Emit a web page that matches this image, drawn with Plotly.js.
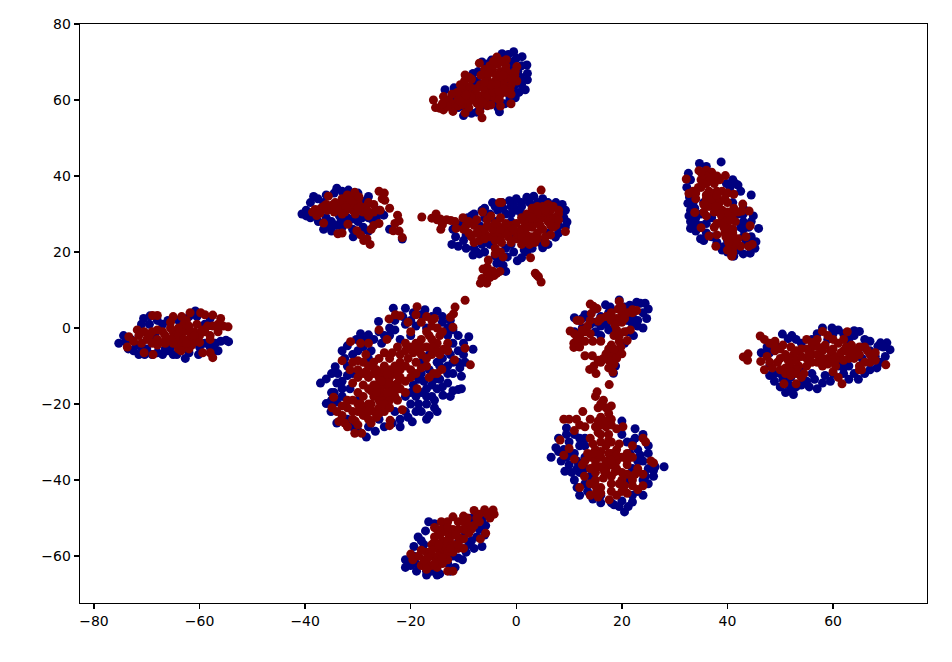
<!DOCTYPE html>
<html><head><meta charset="utf-8">
<script src="https://cdn.plot.ly/plotly-3.0.1.min.js"></script>
<style>html,body{margin:0;padding:0;background:#fff}#c{width:952px;height:662px}</style>
</head><body><div id="c"></div>
<script>
const blueTop=[[-0.5,72.7],[-1.5,72],[1.1,71.4],[0,71],[2,69.2],[1,69],[2.1,67],[2.1,65.3],[1,64],[1.7,62.7],[-0.2,60.6],[-1,62],[-3.2,56.9],[-10,55.9],[-8.5,56.5],[-7.5,56.8],[-13.5,62.7],[-8.1,64.4],[-7.5,65],[-6.5,70],[-5.5,69.5],[-2.7,72.2],[-3.5,71],[-12,61],[-11,58],[-5,59],[-4,60],[-2,64],[-6,67],[-8,62],[-0.8,70],[0.3,67.5],[-0.5,63.5],[-1.2,60.5],[-4.7,70.5],[-7.2,67.5],[-8.8,60],[-9.5,57.5],[-12.8,59],[-2.2,59],[0.5,62],[0.8,66],[-1,68],[-11.8,63.2],[-10.8,62.2],[-6.8,58],[-8.2,67],[-3.5,58]];
const redTop=[[-15.7,60],[-15.3,58],[-14.5,57.8],[-13.8,57.4],[-12,57],[-9.7,56.6],[-6.5,55.3],[-6.9,57],[-3,58.4],[-1,59],[-3.7,71.3],[-1.9,70.6],[-2,69],[0.1,68.8],[0.1,65],[-0.3,66.5],[-7,69.7],[-6,68],[-4.5,68],[-3,67.5],[-1.5,67],[-9.7,66.6],[-9,66],[-10.6,64],[-10,63],[-13.8,60.9],[-12.8,60],[-12,59],[-11,60],[-10,60.5],[-9,59.5],[-8,60],[-7,61],[-6,60],[-5,61],[-4,60.5],[-3,61.5],[-2,62],[-1,61.5],[-3.5,63],[-5,63],[-2.5,64.5],[-4,65],[-5.5,65.5],[-3,66],[-1,64],[-7,58.5],[-9,58],[-11,58.5],[-5.5,58.5],[-6,62],[-8,61.5],[-7.5,63],[-10.5,61],[-2,68],[-5,69],[-3.5,69.5],[-2.8,70.2],[-5.2,67],[-3.8,66.5],[-8.5,65.5],[-9.3,62],[-11.2,62],[-6.8,64],[-4.5,62],[-1.8,65.8],[-7.5,59.2],[-10.2,58.8],[-13,58.3],[-4.8,58.7],[-6.2,63.2],[-3.8,64],[-1.2,62.8],[-8.8,63.5],[-12.2,61.5],[-6.7,66.5],[-4.3,70.2],[-2.3,63],[-3.2,60],[-5.7,60.8],[-8.5,60.7],[-10.5,59.7],[-14,59],[-9.5,61.3],[-6.5,59.5],[-0.2,67.5],[-0.8,65.5],[-2.5,66.5],[-4.8,64],[-6,64.7],[-3.3,62.2],[-9.8,65]];
const blueLeft=[[-40.6,30],[-39.8,31],[-38.4,34.6],[-39,33],[-37.6,34],[-36,35],[-34,36.8],[-33,36],[-31.8,36.3],[-30,35.5],[-28,34.6],[-25.1,29.7],[-26,31],[-39,29],[-37.5,28],[-36.5,26],[-35,25.5],[-33,26.5],[-30.9,24],[-29.5,25],[-28,25.5],[-24,26],[-21.6,23.4],[-32,27.5],[-30,28],[-28,29],[-27,28],[-35,28],[-33,33],[-29,31],[-38,31],[-36.5,33],[-34.5,35.5],[-34,27],[-31,26],[-29,26.5],[-26.5,29],[-28.5,33.5],[-39.8,29.5],[-31,28.7],[-33.2,28.3],[-38.2,29.5],[-36,29],[-33.5,29.5],[-32,29],[-29.2,29],[-25.7,30.5],[-27.5,28.8],[-35.5,26.8]];
const redLeft=[[-26,36],[-25,35.5],[-25.4,34],[-24.9,33.6],[-24,31.5],[-22.5,29.7],[-22.2,28.2],[-23,27.5],[-23.3,25.6],[-22.2,25.5],[-21.6,23.8],[-27.7,22],[-28.9,23],[-28.3,23.5],[-29.5,24.5],[-30.2,25.6],[-33,25],[-33.8,24.8],[-36.5,27.6],[-31.9,27.3],[-26,27.5],[-27,27],[-27.5,26],[-38.1,31.2],[-38.6,30.5],[-37.8,29.6],[-37,31.5],[-36,32.5],[-35.6,34.7],[-34,32],[-33,32.5],[-33,34],[-32,35],[-31,34.5],[-30.6,35.7],[-30,33.5],[-29.5,32],[-31,31],[-32.5,30.5],[-34.5,30.5],[-35.8,31],[-29,30.5],[-28,29.5],[-27,30.5],[-27,32.5],[-28,33],[-25.8,31],[-31,32.5],[-37.2,30.2],[-35,31.5],[-32,33],[-33.5,31],[-30,31.5],[-30.5,30],[-28.5,31.8],[-36.5,32],[-34.3,33],[-32.3,31.7],[-31.5,33.8],[-29.8,34.5],[-34.7,32.5],[-28.2,30.8],[-33,30]];
const blueCenter=[[-12.2,22],[-11.5,24],[-12,26],[-10,28],[-9.2,29],[-8.4,29.6],[-6.5,31],[-5,30],[-2.7,33],[-3.5,31],[-1,32],[0,31],[2,34.4],[3.3,34.7],[1,33],[4,33],[6,33],[8.7,32.5],[9.3,31],[9.6,27.9],[9.3,26.6],[7.4,23.9],[5,21.1],[6,25],[0.2,17.7],[-2,14.9],[-2.5,16.5],[-3,18],[-4,19],[-8.2,19.2],[-7,19.5],[-6,20],[-9.5,21],[-10,23],[-1,28],[-2,30],[-4,28],[-7,27],[-5,22],[2,20],[7.5,29],[8,27],[-11,21.5],[-8,21],[-6.5,22],[-4.5,24],[-2,21],[-0.5,20],[1,18.5],[3,21],[6,22],[8,25],[9,29],[7.5,33],[5,34],[2.5,33],[0,34],[-1,30],[1,30],[3,27],[-3,25],[-0.5,24],[-8,30],[-6,29],[-4,32],[-0.5,32.5],[-2.5,31.5],[1,32],[-1.3,33.5],[3.8,23],[-9.5,24.5],[-7.5,20],[-3.7,17],[-1,22],[1.5,20.5],[4.5,22.5],[-6,31.5],[-4.5,33],[-11,27],[8.7,30],[-1.7,18.7]];
const redCenter=[[-17.9,29.2],[-16,28.9],[-15.2,30],[-15,28.5],[-14.4,28.7],[-13.2,28.5],[-12.4,28.3],[-11.6,28],[-14.3,26],[-14,27.2],[-11.4,26.2],[-10.1,29],[-6.8,11.8],[-5.6,11.8],[-6.5,13],[-5,13.3],[-4.2,13.8],[-3.7,14.4],[-3.1,14.9],[-6.3,15.5],[-5.5,16],[-5.3,17.9],[-2.5,18.7],[-3,20],[3.6,14.4],[4.2,13.5],[4.7,12.1],[3.9,13.9],[2.7,18.5],[4.7,36.3],[-2.8,33],[-3.2,33],[-6.4,30.5],[-5.5,28.5],[9.3,25.4],[7.5,27],[8,31],[7,32],[6,32.5],[5,32],[4,32],[3,30.5],[2,30],[6,30],[5,29],[4,28],[2.5,28],[1.5,28],[7,29],[3,31.5],[-9.5,27],[-8,27],[-9,25],[-8.5,24],[-7,26],[-6,25],[-5.5,27],[-5,24],[-4,25],[-3,24],[-2,26],[-1,27],[0,25],[1,26],[0,23.5],[1,22],[2.5,22],[3,24],[4,25],[5,26],[5.5,24],[6.5,24.5],[-2.8,22.5],[-7,23],[-4,21],[-3,29],[-1.5,24],[-8,22.5],[-3.5,27],[-10,26],[8,30],[6.5,31],[5,30.5],[4,30],[3,29],[2,26.5],[0.5,24.5],[-1,25.5],[-2,24.8],[-3,26],[-4.5,26],[-6.5,24.5],[-7.5,25],[-1,22.5],[2,24.5],[3,26.5],[4.5,27],[6,28],[5.5,22.5],[3.5,22.5],[-4.8,29.5],[-4,19.5],[-4.5,15],[-5.5,14.5],[1,29],[0,27.5],[-0.5,26],[7,26.5],[6.5,27],[8,28.5],[5.5,31],[-6,26],[-2,27.5],[-4,23],[-6,23.5],[-3,23],[1,24],[4,23.5],[2,23],[-9,28],[-7.5,28.5],[-4,27.5]];
const blueBig=[[-37.1,-14.5],[-36,-13.4],[-34.3,-10.2],[-33.8,-12],[-32,-4.7],[-31,-7],[-30.3,-3],[-28,-1.8],[-26.1,1.7],[-26,-1],[-23.3,5.2],[-21,5.2],[-19.5,4],[-17.3,4.8],[-15,4.4],[-14,1.5],[-9,-2.3],[-8.2,-5.6],[-10,-7],[-9.7,-9],[-11,-16.2],[-10.4,-16],[-10.4,-12.7],[-12,-12],[-13.9,-17.7],[-15,-22],[-17,-18],[-15.5,-19],[-16,-15],[-19.7,-24.7],[-18,-22],[-20,-20],[-26.7,-27.2],[-28.4,-28.7],[-25,-26],[-22,-24],[-36,-19.9],[-35.1,-22],[-34,-25],[-31,-26],[-34.5,-17],[-33,-14],[-31,-12],[-35,-17],[-13,-2],[-12,-4],[-11,-6],[-14,-8],[-13,-10],[-12.5,2],[-18,-9],[-17.5,-14],[-20,-2],[-21,1],[-24,0],[-22,-3],[-25.5,-4],[-29,-5],[-28,-8],[-17,-20],[-12,-9],[-30,-19],[-22,-26],[-14.5,-13.5],[-13,-14.5],[-15,-16],[-12,-16.5],[-17,-16],[-19,-18],[-18.5,-20],[-16.5,-23],[-19,-22],[-21,-22],[-23.5,-25],[-26,-24],[-28,-26],[-30,-27],[-32,-24],[-35,-19],[-33,-18],[-33,-16],[-32,-10],[-30,-6],[-27,-3],[-24,-2],[-23,2],[-20,2],[-17,0],[-13,-6],[-11,-9],[-11,-2],[-14,3],[-16,3],[-18,-12],[-15,-9],[-10.7,-10.5],[-12.5,-7],[-16,-18],[-33,-6],[-35,-12],[-29,-3],[-19.5,-15],[-21,-18],[-34,-14.5],[-32,-12.5],[-31.5,-16],[-34,-19.5],[-32.5,-8],[-29.5,-1.5],[-27.5,-6],[-25,-2],[-23,-0.5],[-21.5,3],[-19,0.5],[-18,3.5],[-13,0],[-12,-0.5],[-10,-4],[-14.5,-10],[-16.5,-11],[-15.5,-13.5],[-18.5,-13.5],[-20,-17],[-18,-17],[-14,-15.5],[-15.5,-21],[-17,-24],[-20.5,-23.5],[-23,-22],[-12.5,-18],[-13,-12],[-16.5,-7]];
const redBig=[[-9.7,7.3],[-11.6,5.5],[-11.9,3.7],[-12.5,2.8],[-12,0.2],[-18.8,5.6],[-22.9,3.5],[-22,3.2],[-24.1,2.4],[-31.4,-3.6],[-33,-8.6],[-34.6,-18.2],[-34.9,-21],[-34,-22],[-33.6,-24.6],[-32.5,-25],[-30.6,-27.7],[-29.3,-27.7],[-24,-25.7],[-23.9,-24.3],[-21.6,-21.5],[-18.8,-16],[-8.7,-9.7],[-11.7,-8.4],[-9.7,-5.3],[-13.8,-5.6],[-14.1,-10.9],[-15.7,-12],[-15,-12],[-14.5,-2],[-15,0],[-15.5,2.5],[-16,0.5],[-17,3],[-18,1.5],[-19,3.5],[-20,-1],[-15,-4],[-16,-7],[-17,-5],[-18,-7],[-19,-4],[-21,-4],[-22.5,-5],[-22,-7],[-24.5,-3],[-26,-0.5],[-28,-4],[-29.5,-4],[-30,-8.6],[-31,-9],[-30,-11],[-29,-9],[-28,-10],[-27,-9],[-26,-8],[-25,-10],[-24,-8],[-23,-10],[-22,-9],[-20.5,-8],[-19,-9],[-17,-10],[-16.5,-13],[-30,-13],[-29,-15],[-28,-13],[-27,-12],[-26,-13],[-25.4,-13.2],[-24,-13],[-23,-12],[-22,-13],[-21,-14],[-29,-18],[-28,-16],[-27,-15],[-26,-16],[-25,-15],[-24,-16],[-23,-15],[-22,-16],[-21,-17],[-27,-18],[-26,-19],[-25,-18],[-24,-19],[-23,-18],[-29,-21],[-28,-20],[-31,-22],[-30,-22],[-29,-23],[-28,-24],[-27,-22],[-26,-21],[-25,-22],[-32,-21],[-33,-23],[-31,-24],[-32,-19],[-30,-17],[-20,-5],[-18,-3],[-13,-6],[-20,-11],[-19,-12],[-17,-1],[-16,-3],[-14.5,-7],[-16,-5],[-18,-5],[-19.5,-6.5],[-21,-10],[-22,-11],[-24,-11],[-25.5,-11.5],[-27,-10.5],[-28.5,-11.5],[-26,-14.5],[-24.5,-14.5],[-27.5,-16.5],[-25.5,-17],[-23.5,-17],[-22.5,-14.5],[-27.5,-20],[-25,-20],[-30,-20],[-30.5,-24.5],[-28,-22],[-26.5,-23.5],[-33,-20.5],[-32,-26],[-24,-21],[-22.5,-19],[-15,-6],[-17,-8],[-14,-1],[-16,2],[-20.5,1.5],[-28.5,-7],[-31.5,-11],[-23.5,-6.5],[-25,-6.5],[-26.5,-11],[-24.5,-12],[-22.5,-12.5],[-26.5,-15],[-25.5,-14],[-24,-14.5],[-29,-12],[-31,-14.5],[-31,-19],[-26.5,-17],[-23,-16.5],[-20,-13],[-18,-10.5],[-18.5,-5.5],[-16.5,-2],[-30,-25.5],[-27.5,-25],[-29.5,-20],[-26,-22.5],[-24.5,-17],[-21,-6],[-13,-4]];
const blueE=[[19.5,7.4],[24.4,6.5],[22.8,6.8],[21.5,6],[23.5,6.5],[25,5],[24.7,2.5],[24,0],[23,0.5],[22.2,-2],[11,2.7],[13,3.5],[15,5],[16.9,6.1],[18.4,-11.9],[18.8,-10],[22,3],[17,1],[15,-1],[16,3],[21,-1],[11,-1],[12.5,0],[20.5,5.5],[24,4],[23,2],[22,1],[17.5,4],[16,0.5],[14,1],[18.5,0],[12.5,2.5],[20.5,-4],[17.8,5.5],[16,-2],[17.5,-0.5],[15,1.5],[21,2]];
const redE=[[14,6.3],[15.3,5.1],[14.6,5.7],[14.2,3.8],[12.1,1.9],[11.5,2],[10.2,-0.8],[11,-1.5],[12,-2],[13,-1],[13.5,0.5],[14,2],[10.9,-4],[10.9,-5.1],[11.8,-4],[13,-3.5],[14.5,-3.5],[16,-3.5],[13,-7.3],[14.4,-7.3],[13.9,-10.9],[14.7,-10],[15.1,-12],[16,-9],[18.3,-11.6],[18,-10],[17.6,-14.9],[19.5,7],[19.3,5],[22.8,4.6],[22,4],[21,4],[18,4],[17,3],[16,2.5],[19,2.5],[20,1.5],[21.6,-0.5],[19,-0.5],[18.5,-2],[21,-3.3],[19.5,-3.5],[18,-4.5],[20,-6.8],[19,-6.5],[18,-7],[17.5,-8.5],[19,-8],[17.5,-5.5],[20,3.5],[18,2],[15.5,1.8],[20.5,-1],[19.8,-5],[17,-6.8],[18.5,-9.5],[17.5,-10.5],[15.5,-8.5],[12.5,-0.5],[11.5,-3],[14,-1.5],[20,5.5],[22,4.8],[18.5,-5.5],[19.5,-2],[18.7,0.8],[20.5,2.5],[17.8,3.2],[16.5,-8],[12,-5]];
const blueF=[[6.6,-34],[7.5,-31.5],[8,-29],[9.5,-26.3],[20,-24.5],[24,-28],[22.5,-29],[28,-36.5],[26.3,-36.5],[25,-41],[24.5,-39],[20.5,-48.4],[21.2,-47],[22,-45.8],[11,-40],[11.5,-42],[9.2,-37.7],[8.5,-35],[14.5,-45],[16,-46],[18.5,-46.5],[23,-43],[25,-33],[23,-32],[10,-30],[11,-33],[9,-32],[13,-37],[20,-28],[18,-46],[21,-30],[24,-35],[26,-39],[24,-44],[12,-44],[12,-38],[10,-36],[11,-28],[13,-29],[22,-37],[25,-31],[14,-39],[16,-44],[20,-45.5],[13,-31],[21.5,-33],[24,-40],[8,-32.5],[9.5,-28],[10,-33.5],[12,-31],[11.5,-35],[13,-34],[12,-29],[11.5,-37],[9.5,-34],[13,-41],[13.5,-43],[22,-30],[23.5,-33.5],[25,-37],[23,-35],[26,-37.5],[22,-44],[19.5,-47],[21.5,-40],[22.5,-26.5],[10.5,-38]];
const redF=[[15.3,-16.8],[15,-18],[16.5,-19],[18,-20.5],[17,-21],[15.5,-21],[12.6,-22],[9,-24],[10,-24],[11.4,-24],[12,-25.5],[14,-24],[16,-23.5],[18,-24],[15,-26],[17,-26],[19,-26.5],[20.2,-26],[8.3,-29.5],[24,-29],[24.5,-30],[10,-31.7],[9,-33.5],[11,-34.5],[12.5,-36],[26,-35.5],[25.5,-35],[12.9,-39],[12,-42],[14,-44],[15.5,-44.5],[17.6,-45.2],[19,-44],[21,-43.5],[24,-41.5],[23,-42.5],[24,-38.5],[22,-40],[20,-40],[18,-41],[16,-42],[15,-40],[17,-38],[15,-38],[19,-37],[21,-36],[22,-34],[14,-34],[15,-32],[16,-30],[17,-31],[18,-30],[19,-32],[20,-34],[15,-35],[16,-34],[17,-35],[18,-33],[19,-35],[13.5,-33],[14,-29],[16,-28],[22,-31],[17,-37],[21,-38.5],[23,-37],[16,-20],[17.5,-22.5],[15.5,-24.5],[17,-24.5],[15.5,-27.5],[17.5,-28],[13,-26],[11,-27],[16,-32.5],[17.5,-33],[19,-33.5],[16,-36.5],[18,-36],[20,-38],[18,-39],[16.5,-39.5],[14,-41],[16,-43.5],[18,-43],[20.5,-41.5],[22.5,-38.5],[21,-33],[14.5,-30.5],[14.8,-36.5],[15.5,-33.3],[18,-34.8],[19.5,-30.5],[21,-34.8],[14.5,-33],[16.7,-37.8],[18.7,-37.8],[14,-37],[13,-35],[18,-25.5],[16,-25.5],[17.5,-29.5],[15.2,-43],[20,-43],[19.5,-41],[15,-41.5],[22,-41.5]];
const blueG=[[38.8,43.7],[34.7,43.3],[36,42.5],[32.6,40.7],[33,39],[32.3,37],[32.5,32.8],[33,31],[32.7,29.5],[33,26.2],[33.5,27],[34,25.5],[34.9,23.5],[44.5,35],[42,37.6],[41,39],[40.5,37],[44.9,29.5],[45.9,26.2],[44.5,24],[45.4,22.7],[44.3,19.7],[45.2,21],[41.2,18.9],[39.3,21.4],[40,20],[43,24],[35,30],[42,30],[43,28],[35,27],[37,29],[43,19.5],[42,20.5],[44,26.5],[43,26],[36,25],[35.5,23],[33.5,33],[34,29],[43.5,22.5],[38,22.5],[40,23],[41,33],[42.5,36],[34,27.5],[36,27.5],[37,24],[42.5,26.5],[44.5,28],[43,30],[33.8,31.5],[35.5,33],[41.5,38],[39.8,38],[32.8,34.5],[33,28],[39,20.5],[43,31.5]];
const redG=[[32.2,39.2],[34.6,41.4],[36,41.5],[37,41],[39.6,40.1],[38.5,39],[35,39],[36,38],[37.5,38],[35,37],[36.5,36],[38,36],[39,36],[40,35.5],[41.2,35.2],[32.7,35.4],[33.5,36],[34,34],[36,34],[37,33],[38,34],[40,33],[36.5,32],[37.5,30.5],[33.8,30.4],[35.5,30.5],[36,29.5],[35,26.4],[37.5,26.5],[37.8,21.5],[36.5,24.2],[38,24.5],[39,29],[40,29],[41,30],[42,30.5],[40.8,18.9],[41,21],[42.5,21.5],[44,21.5],[44.7,22],[44.3,26.9],[44.1,30.8],[42.9,32.6],[40,27],[41,26],[39.5,25],[41,24],[42,23.5],[43.5,24],[39,31],[41.5,28],[36,40],[35,41],[37,39],[38,40],[36.5,38.8],[34.5,37],[34,35.5],[37,35],[38.5,33],[37,34],[39.5,34],[38,27.5],[39,27.5],[40.5,28.5],[40,26],[40,30.5],[41.5,22.5],[41,19.8],[35.5,38],[37.5,40],[36,35],[38,35],[35.5,32.5],[37.8,32],[39.3,26.5],[38.7,30],[41,25],[40.2,22.5],[39.7,24],[40,20.5],[42.7,30.8],[41.2,31.5]];
const blueH=[[50.4,-1.6],[52.2,-2],[58,0],[59.8,0],[64,-0.7],[65,-0.9],[70.2,-3.9],[69,-3.9],[70.8,-5.7],[69.9,-7.5],[68.3,-10.5],[67,-9],[64.8,-13.5],[62,-12],[57,-16],[55,-14],[52.5,-17.5],[51,-17],[48.9,-14],[50,-12],[46.4,-6.5],[47.5,-7],[54,-4],[56,-3],[60,-1.5],[63,-3],[66,-3],[67,-6],[60,-12],[53,-15.5],[50,-15.5],[54,-15],[58,-14.5],[59.5,-14],[63,-13.5],[66,-12],[69,-9],[49,-12],[48,-10],[57,-1.5],[61,-0.5],[67,-3.5],[68.5,-4.8],[65.5,-5],[62,-10.5],[56,-12],[47.5,-5],[51.5,-2.8],[48,-12.5],[50.5,-13.5],[52,-16],[55.5,-15.5],[56.5,-13.5],[58.5,-12.5],[61,-10],[64,-12],[67,-11],[69.5,-5],[64,-2],[62,-1.5],[59,-3],[53,-3],[49,-4.5],[48,-6.5],[52,-13],[54,-11],[65.5,-8],[68,-7.5],[63,-10],[51.5,-14.8]];
const redH=[[43,-7.6],[43.9,-6.8],[43.8,-8.5],[46.2,-2.1],[47,-3],[48,-4],[49,-3.5],[50.5,-4.5],[46.3,-8.8],[47,-11],[47.5,-7.5],[49,-6],[49.5,-9],[51,-7],[50.7,-14.7],[53,-14.7],[51,-12],[52,-10],[53,-12],[54,-13],[52.5,-7],[54,-5.5],[55,-3],[56,-7],[57,-3],[58,-0.9],[59,-2],[58,-6],[59,-8],[60,-5.5],[61,-8],[61.7,-14.7],[61,-13],[60,-11.5],[62.7,-1],[62,-3],[62,-6],[63,-8],[64,-6],[65,-11],[65.4,-11],[66,-5],[67,-7],[68,-6.5],[67,-9],[70,-9.7],[55,-8],[57,-9],[58,-10],[55,-10],[53,-8.5],[60,-9],[48,-9],[50,-8],[51,-10.5],[52,-12.5],[53.5,-10],[54,-7.5],[56,-5],[57,-7],[58.5,-4.5],[60,-7],[61,-4],[62,-8.5],[64,-8],[65,-7],[66,-9],[63.5,-4.5],[65,-10],[68,-8.5],[59,-9.5],[49,-5],[52,-5],[55,-5.5],[50,-5.5],[48.5,-10.5],[51.5,-8.5],[53,-11],[56,-9],[58,-8],[59.5,-6],[61.5,-6.5],[62.5,-5],[60,-3],[66.5,-6],[65,-5],[63,-6.5],[52,-11.5],[54.5,-12],[50,-11],[60.5,-10],[57,-4.8],[55.5,-7],[53,-6],[56,-3.8]];
const blueI=[[-75.3,-4],[-74.4,-2],[-73.5,-5.5],[-70.6,2.5],[-69.4,3.2],[-68,2],[-60.8,4.5],[-62,3],[-58,2.5],[-54.5,-3.6],[-56,-3.5],[-57,-6],[-62.7,-8],[-60.2,-7],[-70.4,-7],[-69,-7],[-72.5,-6],[-64.3,-7],[-66,-6],[-67,-7],[-71,1],[-73,-3],[-71.5,-7],[-68,-6.5],[-65.5,-5],[-58,-5],[-55,-3.2],[-56.5,-6],[-62,-6.5],[-71,-5],[-67,1],[-66,2],[-72,-4.5],[-70,-5.5],[-69.5,1],[-68.5,-2],[-66.5,-5.5],[-60,-5],[-59,-4],[-57,-4],[-59,1],[-60.5,3],[-64,2],[-65,-7],[-74,-3.5]];
const redI=[[-68.9,3.3],[-68,3.3],[-65,3],[-65.5,1.5],[-63.4,3],[-62.5,2],[-61.8,4],[-59.8,4],[-59,3.5],[-57.5,3.4],[-56,2.5],[-54.6,0.3],[-55.5,0.5],[-56.5,-1],[-57.5,-7.8],[-58,-6.5],[-59.4,-6.5],[-68.8,-7],[-70.5,-6.5],[-73.7,-5],[-73.4,-2.3],[-72.5,-3.5],[-71.8,-0.5],[-70.5,-1],[-70,-3],[-69,-1],[-68,-3],[-67,-1],[-66,-3],[-65,-1],[-64,-3.5],[-63,-1],[-62,-3],[-61,-1],[-63,-5],[-62,-5.5],[-64,-5.5],[-60,-2],[-59,-1],[-58,-2],[-57.5,0.5],[-65,-4],[-68,-4.5],[-60.5,1],[-71.5,-2],[-69.5,-2],[-68,-0.5],[-66.5,-2],[-65,-2.5],[-64,-2],[-63,-3],[-62,-1],[-63,1],[-64,0],[-62,0.5],[-66.5,-4],[-61.5,-4.5],[-60.5,-3.5],[-59.5,-0.5],[-63.5,-6],[-62.5,-4],[-71,-4],[-69,-4],[-67,-3.8],[-65.5,0],[-61,-2],[-58.5,0.5],[-56.5,1],[-60,-3.8],[-58,-3]];
const blueJ=[[-16.6,-51],[-17.2,-53.4],[-18.6,-55],[-19.4,-57.5],[-21,-61],[-21,-63],[-18.9,-64],[-20,-62.5],[-16,-64],[-17,-65],[-15,-65],[-11.6,-63],[-10.2,-61],[-12,-60],[-6.5,-57.5],[-8,-58],[-9,-57],[-5.8,-52],[-6.5,-50.5],[-10,-55],[-7.5,-55],[-13,-62],[-11,-60.5],[-9.5,-59],[-7,-53],[-8.5,-50],[-18,-56],[-17,-64],[-19,-62],[-14.5,-64.7],[-17.5,-57],[-11,-56.5],[-8.5,-56],[-6,-54.5],[-12.5,-64],[-19.5,-60],[-15.5,-51.5],[-13.5,-52.5]];
const redJ=[[-4.4,-47.9],[-8,-48],[-6,-47.8],[-7,-49],[-4.2,-49],[-5,-50],[-5.8,-54],[-6.8,-55.5],[-14.2,-51],[-13,-51],[-12,-49.7],[-11,-51],[-10,-51],[-9,-52],[-8,-52],[-9,-54],[-10,-53],[-11,-55],[-12,-53],[-13,-54],[-14,-53],[-15,-53],[-15.5,-55],[-14,-56],[-13,-56],[-12,-57],[-16,-57],[-15,-58],[-14,-59],[-13,-59],[-17,-59],[-16,-60],[-15,-61],[-14,-62],[-20,-59.5],[-19.6,-61],[-18.5,-60],[-18,-62.5],[-17,-62],[-16,-62.5],[-13,-64],[-12,-64],[-11,-58],[-10,-58],[-15.5,-52.5],[-14.5,-54.5],[-12.5,-55],[-11,-53],[-10,-55.5],[-9.3,-50],[-7,-51],[-13.5,-57.5],[-15.5,-56.3],[-16.8,-60.5],[-18,-58.5],[-14.8,-60],[-13,-61],[-15,-63],[-17,-63.5],[-12,-59],[-8.5,-53],[-10,-49.5],[-5.5,-49],[-7.5,-50],[-11.5,-54.5],[-13,-52.5],[-14.7,-57.2],[-12.5,-58],[-16,-58.5],[-17.5,-61],[-15.5,-62],[-14,-60.5],[-11,-57]];
const xTicks=[-80,-60,-40,-20,0,20,40,60];
const yTicks=[-60,-40,-20,0,20,40,60,80];

const blueAll=[...blueTop,...blueLeft,...blueCenter,...blueBig,...blueE,...blueF,...blueG,...blueH,...blueI,...blueJ];
const redAll=[...redTop,...redLeft,...redCenter,...redBig,...redE,...redF,...redG,...redH,...redI,...redJ];
const trace=(pts,color)=>({type:'scatter',mode:'markers',x:pts.map(p=>p[0]),y:pts.map(p=>p[1]),
  marker:{color:color,size:9,line:{width:0}},hoverinfo:'skip'});
const axis=(range,ticks)=>({range:range,tickmode:'array',tickvals:ticks,ticktext:ticks.map(t=>String(t).replace('-','\u2212')),
  showgrid:false,zeroline:false,showline:true,mirror:true,linecolor:'#000',linewidth:1.3,
  ticks:'outside',ticklen:5,tickwidth:1.3,tickcolor:'#000',tickfont:{family:'DejaVu Sans',size:14,color:'#000'}});
Plotly.newPlot('c',[trace(blueAll,'#00007f'),trace(redAll,'#7f0000')],{
  width:952,height:662,showlegend:false,paper_bgcolor:'#fff',plot_bgcolor:'#fff',
  margin:{l:80,r:25,t:24,b:59},
  xaxis:axis([-82.65,77.8],xTicks),yaxis:axis([-72.37,80],yTicks)
},{displayModeBar:false,staticPlot:true});
</script></body></html>
